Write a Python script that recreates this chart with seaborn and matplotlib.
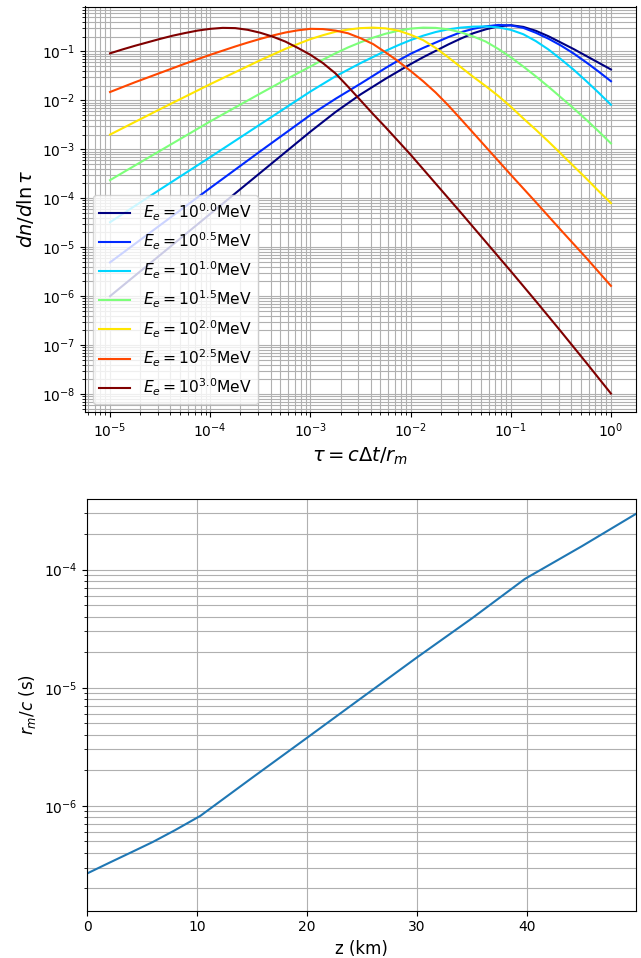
import numpy as np
import pandas as pd
import matplotlib
matplotlib.use("Agg")
import matplotlib.pyplot as plt
import seaborn as sns

# ---------------- data ----------------
energy_exp = ["0.0", "0.5", "1.0", "1.5", "2.0", "2.5", "3.0"]

# log10(tau) sample positions and log10(dn/dln tau) for each energy
ltau_e00 = [-5, -4.5, -4, -3.5, -3, -2.75, -2.5, -2.25, -2, -1.875, -1.75, -1.625, -1.5,
            -1.375, -1.25, -1.125, -1, -0.875, -0.75, -0.625, -0.5, -0.375, -0.25, -0.125, 0]
logn_e00 = [-6.00, -5.16, -4.32, -3.48, -2.64, -2.24, -1.88, -1.56, -1.26, -1.12, -0.99, -0.86,
            -0.74, -0.63, -0.55, -0.49, -0.465, -0.50, -0.58, -0.69, -0.82, -0.95, -1.09, -1.23, -1.37]

ltau_e05 = [-5, -4.5, -4, -3.5, -3, -2.75, -2.5, -2.25, -2.125, -2, -1.875, -1.75, -1.625, -1.5,
            -1.375, -1.25, -1.125, -1, -0.875, -0.75, -0.625, -0.5, -0.375, -0.25, -0.125, 0]
logn_e05 = [-5.31, -4.55, -3.79, -3.04, -2.30, -1.97, -1.66, -1.34, -1.19, -1.05, -0.93, -0.82,
            -0.71, -0.61, -0.54, -0.49, -0.46, -0.47, -0.52, -0.62, -0.74, -0.88, -1.04, -1.22, -1.41, -1.61]

ltau_e10 = [-5, -4.5, -4, -3.5, -3, -2.75, -2.5, -2.375, -2.25, -2.125, -2, -1.875, -1.75, -1.625,
            -1.5, -1.375, -1.25, -1.125, -1, -0.875, -0.75, -0.625, -0.5, -0.375, -0.25, -0.125, 0]
logn_e10 = [-4.49, -3.82, -3.16, -2.49, -1.82, -1.51, -1.24, -1.115, -0.99, -0.875, -0.77, -0.68,
            -0.605, -0.55, -0.515, -0.495, -0.49, -0.51, -0.56, -0.65, -0.79, -0.96, -1.16, -1.37,
            -1.60, -1.84, -2.09]

ltau_e15 = [-5, -4.5, -4, -3.5, -3.25, -3, -2.875, -2.75, -2.625, -2.5, -2.375, -2.25, -2.125, -2,
            -1.875, -1.75, -1.625, -1.5, -1.375, -1.25, -1.125, -1, -0.875, -0.75, -0.625, -0.5,
            -0.375, -0.25, -0.125, 0]
logn_e15 = [-3.63, -3.03, -2.43, -1.86, -1.58, -1.31, -1.17, -1.04, -0.92, -0.815, -0.72, -0.64,
            -0.58, -0.535, -0.515, -0.52, -0.55, -0.61, -0.695, -0.80, -0.95, -1.12, -1.31, -1.51,
            -1.72, -1.94, -2.16, -2.39, -2.63, -2.88]

ltau_e20 = [-5, -4.5, -4, -3.5, -3.25, -3.125, -3, -2.875, -2.75, -2.625, -2.5, -2.375, -2.25,
            -2.125, -2, -1.875, -1.75, -1.625, -1.5, -1.375, -1.25, -1.125, -1, -0.875, -0.75,
            -0.625, -0.5, -0.375, -0.25, -0.125, 0]
logn_e20 = [-2.70, -2.18, -1.67, -1.18, -0.95, -0.85, -0.75, -0.67, -0.60, -0.555, -0.525, -0.515,
            -0.53, -0.575, -0.66, -0.77, -0.93, -1.12, -1.32, -1.52, -1.71, -1.91, -2.13, -2.37,
            -2.60, -2.84, -3.09, -3.34, -3.59, -3.85, -4.10]

ltau_e25 = [-5, -4.75, -4.5, -4.25, -4, -3.75, -3.625, -3.5, -3.375, -3.25, -3.125, -3, -2.875,
            -2.75, -2.625, -2.5, -2.375, -2.25, -2.125, -2, -1.875, -1.75, -1.625, -1.5, -1.25,
            -1, -0.75, -0.5, -0.25, 0]
logn_e25 = [-1.83, -1.63, -1.44, -1.25, -1.07, -0.90, -0.82, -0.745, -0.675, -0.615, -0.57, -0.54,
            -0.545, -0.575, -0.63, -0.73, -0.85, -1.02, -1.20, -1.40, -1.61, -1.84, -2.10, -2.38,
            -2.95, -3.52, -4.08, -4.65, -5.21, -5.79]

ltau_e30 = [-5, -4.875, -4.75, -4.625, -4.5, -4.375, -4.25, -4.125, -4, -3.875, -3.75, -3.625,
            -3.5, -3.375, -3.25, -3.125, -3, -2.875, -2.75, -2.625, -2.5, -2.375, -2.25, -2,
            -1.75, -1.5, -1.25, -1, -0.75, -0.5, -0.25, 0]
logn_e30 = [-1.04, -0.96, -0.885, -0.815, -0.745, -0.68, -0.625, -0.575, -0.54, -0.52, -0.525,
            -0.56, -0.62, -0.70, -0.80, -0.93, -1.07, -1.24, -1.45, -1.72, -2.00, -2.28, -2.55,
            -3.11, -3.70, -4.29, -4.89, -5.49, -6.10, -6.72, -7.35, -7.99]

z_km = [0.0, 2.0, 4.1, 6.0, 8.0, 10.3, 15.0, 20.0, 25.0, 30.0, 35.0, 39.8, 45.0, 49.9]
log_rm_c = [-6.573, -6.483, -6.39, -6.305, -6.206, -6.085, -5.763, -5.424, -5.083,
            -4.743, -4.412, -4.079, -3.801, -3.528]

# ---------------- figure ----------------
fig = plt.figure(figsize=(6.41, 9.58), dpi=100)
W, H = 641, 958
ax1 = fig.add_axes([85 / W, (H - 412) / H, 551 / W, 405.5 / H])
ax2 = fig.add_axes([87 / W, (H - 910.5) / H, 549 / W, 411.2 / H])

taus = [ltau_e00, ltau_e05, ltau_e10, ltau_e15, ltau_e20, ltau_e25, ltau_e30]
series = [logn_e00, logn_e05, logn_e10, logn_e15, logn_e20, logn_e25, logn_e30]
colors = plt.cm.jet(np.linspace(0, 1, len(series)))

for ex, lt, vals, col in zip(energy_exp, taus, series, colors):
    df = pd.DataFrame({"tau": 10 ** np.array(lt, dtype=float),
                       "dn": 10 ** np.array(vals, dtype=float)})
    sns.lineplot(data=df, x="tau", y="dn", color=col, lw=1.5, ax=ax1,
                 label=r"$E_e=10^{%s}$MeV" % ex)

ax1.set_xscale("log")
ax1.set_yscale("log")
ax1.grid(True, which="both", color="#b0b0b0", lw=0.8)
ax1.set_xlabel(r"$\tau = c\Delta t/r_m$", fontsize=14)
ax1.set_ylabel(r"$dn/d\ln\tau$", fontsize=14)
ax1.legend(loc="lower left", fontsize=11.2)

df2 = pd.DataFrame({"z": z_km, "rm": 10 ** np.array(log_rm_c)})
sns.lineplot(data=df2, x="z", y="rm", color="C0", lw=1.5, ax=ax2)
ax2.set_yscale("log")
ax2.set_xlim(z_km[0], z_km[-1])
ax2.set_ylim(10 ** -6.886, 10 ** -3.405)
ax2.grid(True, which="both", color="#b0b0b0", lw=0.8)
ax2.set_xlabel("z (km)", fontsize=12)
ax2.set_ylabel(r"$r_m/c$ (s)", fontsize=12)

fig.savefig("out.png", dpi=100)
